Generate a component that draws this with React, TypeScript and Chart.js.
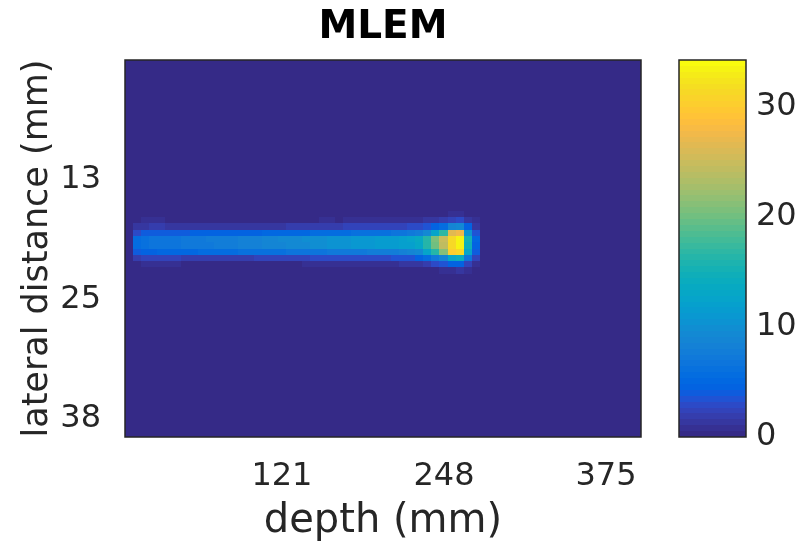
import React, { useEffect, useRef } from "react";
import { Chart, registerables } from "chart.js";

Chart.register(...registerables);

// Axis ranges and tick positions
const DEPTH_RANGE = [-2, 402.4];
const LATERAL_RANGE = [0, 39.7];
const COLOR_RANGE = [0, 34.2];
const DEPTH_TICKS = [121, 248, 375];
const LATERAL_TICKS = [12.6, 25.2, 37.8];
const COLOR_TICKS = [0, 10, 20, 30];

// Reconstruction grid (64 depth bins x 60 lateral bins)
const N_COLS = 64;
const N_ROWS = 60;
const FIRST_BEAM_ROW = 24;

// Reconstructed intensity along depth, one array per lateral bin (bins 24..33)
const row24 = [0, 0, 0, 0, 0, 0, 0, 0, 0, 0, 0, 0, 0, 0, 0, 0, 0, 0, 0, 0, 0, 0, 0, 0, 0, 0, 0, 0, 0, 0, 0, 0, 0, 0, 0, 0, 0, 0, 0, 0.5, 0.9, 1.0, 0.5, 0, 0];
const row25 = [0, 0, 0.6, 0.7, 0.6, 0.5, 0, 0, 0, 0, 0, 0, 0, 0, 0, 0, 0, 0, 0, 0, 0, 0, 0, 0.5, 0.6, 0.6, 0.5, 0.6, 0.7, 0.6, 0.6, 0.7, 0.7, 0.8, 0.8, 0.8, 0.9, 1.2, 1.6, 2.0, 2.6, 2.8, 1.6, 0.6, 0];
const row26 = [0, 1.2, 1.6, 1.8, 1.7, 1.6, 1.5, 1.4, 1.3, 1.2, 1.2, 1.1, 1.1, 1.2, 1.2, 1.3, 1.3, 1.4, 1.5, 1.6, 1.7, 1.8, 1.9, 2.0, 2.0, 2.1, 2.1, 2.2, 2.2, 2.3, 2.3, 2.4, 2.4, 2.5, 2.6, 2.7, 3.0, 3.6, 4.5, 5.5, 9.0, 9.5, 4.5, 1.6, 0];
const row27 = [0, 3.2, 3.8, 4.0, 4.1, 4.1, 4.2, 4.2, 4.3, 4.3, 4.4, 4.4, 4.5, 4.5, 4.6, 4.7, 4.8, 4.9, 5.0, 5.0, 5.1, 5.2, 5.3, 5.4, 5.5, 5.6, 5.7, 5.8, 5.9, 6.0, 6.1, 6.2, 6.4, 6.6, 6.8, 7.0, 7.5, 9.5, 12.5, 17.0, 26.5, 27.5, 10.5, 3.5, 0];
const row28 = [0, 5.8, 6.4, 6.6, 6.7, 6.8, 6.9, 7.0, 7.2, 7.3, 7.5, 7.7, 7.8, 8.0, 8.1, 8.3, 8.5, 8.7, 8.9, 9.1, 9.3, 9.5, 9.7, 9.9, 10.1, 10.3, 10.5, 10.6, 10.8, 11.0, 11.1, 11.3, 11.5, 11.7, 11.9, 12.3, 13.5, 16.5, 20.5, 25.0, 31.5, 33.6, 15.0, 5.0, 0];
const row29 = [0, 5.7, 6.3, 6.5, 6.6, 6.7, 6.8, 7.0, 7.1, 7.3, 7.4, 7.6, 7.8, 7.9, 8.1, 8.3, 8.4, 8.6, 8.8, 9.0, 9.2, 9.4, 9.6, 9.8, 10.0, 10.2, 10.4, 10.6, 10.7, 10.9, 11.1, 11.3, 11.5, 11.6, 11.8, 12.2, 13.3, 16.2, 20.0, 24.5, 31.2, 33.4, 14.5, 4.8, 0];
const row30 = [0, 4.0, 4.6, 4.8, 4.9, 5.0, 5.1, 5.2, 5.3, 5.4, 5.5, 5.6, 5.7, 5.8, 5.9, 6.0, 6.1, 6.2, 6.3, 6.4, 6.5, 6.6, 6.7, 6.8, 6.9, 7.0, 7.1, 7.2, 7.3, 7.4, 7.5, 7.6, 7.8, 8.0, 8.2, 8.6, 9.5, 12.5, 16.5, 21.0, 30.0, 31.5, 12.5, 4.2, 0];
const row31 = [0, 2.0, 2.4, 2.5, 2.4, 2.3, 2.2, 2.1, 2.0, 2.0, 2.0, 1.9, 1.9, 2.0, 2.0, 2.1, 2.2, 2.3, 2.3, 2.4, 2.5, 2.6, 2.6, 2.7, 2.7, 2.8, 2.8, 2.9, 2.9, 3.0, 3.0, 3.1, 3.2, 3.3, 3.4, 3.6, 4.5, 5.5, 7.0, 9.0, 13.0, 14.0, 6.5, 2.2, 0];
const row32 = [0, 0.5, 0.8, 0.9, 0.8, 0.7, 0.6, 0, 0, 0, 0, 0, 0, 0, 0, 0, 0, 0, 0, 0, 0, 0.5, 0.6, 0.7, 0.7, 0.8, 0.7, 0.8, 0.8, 0.8, 0.9, 0.9, 1.0, 1.0, 1.1, 1.2, 1.5, 2.0, 2.8, 3.5, 4.5, 4.8, 2.6, 0.9, 0];
const row33 = [0, 0, 0, 0, 0, 0, 0, 0, 0, 0, 0, 0, 0, 0, 0, 0, 0, 0, 0, 0, 0, 0, 0, 0, 0, 0, 0, 0, 0, 0, 0, 0, 0, 0, 0, 0, 0, 0, 0, 0.6, 1.0, 1.2, 0.6, 0, 0];

const BEAM_ROWS = [row24, row25, row26, row27, row28, row29, row30, row31, row32, row33];

// MATLAB parula colormap, 64 entries
const PARULA: number[][] = [
  [0.2081, 0.1663, 0.5292], [0.2116, 0.1898, 0.5777], [0.2123, 0.2138, 0.627], [0.2081, 0.2386, 0.6771],
  [0.1959, 0.2645, 0.7279], [0.1707, 0.2919, 0.7792], [0.1253, 0.3242, 0.8303], [0.0591, 0.3598, 0.8683],
  [0.0117, 0.3875, 0.882], [0.006, 0.4086, 0.8828], [0.0165, 0.4266, 0.8786], [0.0329, 0.443, 0.872],
  [0.0498, 0.4586, 0.8641], [0.0629, 0.4737, 0.8554], [0.0723, 0.4887, 0.8467], [0.0779, 0.504, 0.8384],
  [0.0793, 0.52, 0.8312], [0.0749, 0.5375, 0.8263], [0.0641, 0.557, 0.824], [0.0488, 0.5772, 0.8228],
  [0.0343, 0.5966, 0.8199], [0.0265, 0.6137, 0.8135], [0.0239, 0.6287, 0.8038], [0.0231, 0.6418, 0.7913],
  [0.0228, 0.6535, 0.7768], [0.0267, 0.6642, 0.7607], [0.0384, 0.6743, 0.7436], [0.059, 0.6838, 0.7254],
  [0.0843, 0.6928, 0.7062], [0.1133, 0.7015, 0.6859], [0.1453, 0.7098, 0.6646], [0.1801, 0.7177, 0.6424],
  [0.2178, 0.725, 0.6193], [0.2586, 0.7317, 0.5954], [0.3022, 0.7376, 0.5712], [0.3482, 0.7424, 0.5473],
  [0.3953, 0.7459, 0.5244], [0.442, 0.7481, 0.5033], [0.4871, 0.7491, 0.484], [0.53, 0.7491, 0.4661],
  [0.5709, 0.7485, 0.4494], [0.6099, 0.7473, 0.4337], [0.6473, 0.7456, 0.4188], [0.6834, 0.7435, 0.4044],
  [0.7184, 0.7411, 0.3905], [0.7525, 0.7384, 0.3768], [0.7858, 0.7356, 0.3633], [0.8185, 0.7327, 0.3498],
  [0.8507, 0.7299, 0.336], [0.8824, 0.7274, 0.3217], [0.9139, 0.7258, 0.3063], [0.945, 0.7261, 0.2886],
  [0.9739, 0.7314, 0.2666], [0.9938, 0.7455, 0.2403], [0.999, 0.7653, 0.2164], [0.9955, 0.7861, 0.1967],
  [0.988, 0.8066, 0.1794], [0.9789, 0.8271, 0.1633], [0.9697, 0.8481, 0.1475], [0.9626, 0.8705, 0.1309],
  [0.9589, 0.8949, 0.1132], [0.9598, 0.9218, 0.0948], [0.9661, 0.9514, 0.0755], [0.9763, 0.9831, 0.0538],
];

const FONT = "'DejaVu Sans', 'Liberation Sans', sans-serif";
const TEXT_COLOR = "#262626";

function parulaColor(v: number): string {
  const t = (v - COLOR_RANGE[0]) / (COLOR_RANGE[1] - COLOR_RANGE[0]);
  const i = Math.max(0, Math.min(PARULA.length - 1, Math.floor(t * PARULA.length)));
  const [r, g, b] = PARULA[i];
  return `rgb(${Math.round(r * 255)},${Math.round(g * 255)},${Math.round(b * 255)})`;
}

function cellValue(row: number, col: number): number {
  const beam = BEAM_ROWS[row - FIRST_BEAM_ROW];
  if (!beam) return 0;
  return beam[col] ?? 0;
}

const depthStep = (DEPTH_RANGE[1] - DEPTH_RANGE[0]) / N_COLS;
const lateralStep = (LATERAL_RANGE[1] - LATERAL_RANGE[0]) / N_ROWS;

// One point per grid cell (centre position + intensity)
const cells: { x: number; y: number; v: number }[] = [];
for (let r = 0; r < N_ROWS; r++) {
  for (let c = 0; c < N_COLS; c++) {
    cells.push({
      x: DEPTH_RANGE[0] + (c + 0.5) * depthStep,
      y: LATERAL_RANGE[0] + (r + 0.5) * lateralStep,
      v: cellValue(r, c),
    });
  }
}

// keep tick-label overhang from pushing the plot area around
const noPadding = (s: any) => {
  s.paddingTop = 0;
  s.paddingBottom = 0;
  s.paddingLeft = 0;
  s.paddingRight = 0;
};

const heatmapPlugin = {
  id: "heatmapCells",
  beforeDatasetsDraw(chart: any) {
    const { ctx, chartArea, scales } = chart;
    const xs = scales.x;
    const ys = scales.y;
    const cs = scales.cbar;
    ctx.save();
    ctx.beginPath();
    ctx.rect(chartArea.left, chartArea.top, chartArea.right - chartArea.left, chartArea.bottom - chartArea.top);
    ctx.clip();
    for (const cell of cells) {
      const x0 = Math.round(xs.getPixelForValue(cell.x - depthStep / 2));
      const x1 = Math.round(xs.getPixelForValue(cell.x + depthStep / 2));
      const y0 = Math.round(ys.getPixelForValue(cell.y - lateralStep / 2));
      const y1 = Math.round(ys.getPixelForValue(cell.y + lateralStep / 2));
      ctx.fillStyle = parulaColor(cell.v);
      ctx.fillRect(Math.min(x0, x1), Math.min(y0, y1), Math.abs(x1 - x0), Math.abs(y1 - y0));
    }
    ctx.restore();

    // axes box
    ctx.save();
    ctx.strokeStyle = TEXT_COLOR;
    ctx.lineWidth = 1.5;
    ctx.strokeRect(chartArea.left, chartArea.top, chartArea.right - chartArea.left, chartArea.bottom - chartArea.top);

    // colour bar, drawn against its own value scale
    const barLeft = chartArea.right + 38;
    const barRight = chartArea.right + 105;
    const n = PARULA.length;
    for (let i = 0; i < n; i++) {
      const v0 = COLOR_RANGE[0] + (i / n) * (COLOR_RANGE[1] - COLOR_RANGE[0]);
      const v1 = COLOR_RANGE[0] + ((i + 1) / n) * (COLOR_RANGE[1] - COLOR_RANGE[0]);
      const p0 = Math.round(cs.getPixelForValue(v0));
      const p1 = Math.round(cs.getPixelForValue(v1));
      ctx.fillStyle = parulaColor((v0 + v1) / 2);
      ctx.fillRect(barLeft, p1, barRight - barLeft, p0 - p1);
    }
    ctx.strokeRect(barLeft, cs.top, barRight - barLeft, cs.bottom - cs.top);

    // title
    ctx.fillStyle = "#000";
    ctx.font = `bold 39px ${FONT}`;
    ctx.textAlign = "center";
    ctx.textBaseline = "middle";
    ctx.fillText("MLEM", (chartArea.left + chartArea.right) / 2, 28);
    ctx.restore();
  },
};

export default function App() {
  const ref = useRef<HTMLCanvasElement>(null);

  useEffect(() => {
    if (!ref.current) return;
    const chart = new Chart(ref.current, {
      type: "scatter",
      data: {
        datasets: [
          {
            data: cells.map((c) => ({ x: c.x, y: c.y })),
            pointRadius: 0,
            pointHoverRadius: 0,
          },
        ],
      },
      options: {
        animation: false,
        responsive: false,
        events: [],
        layout: { padding: { top: 60, left: 0, right: 0, bottom: 0 } },
        plugins: {
          legend: { display: false },
          tooltip: { enabled: false },
          title: { display: false },
        },
        scales: {
          x: {
            type: "linear",
            position: "bottom",
            min: DEPTH_RANGE[0],
            max: DEPTH_RANGE[1],
            grid: { display: false, drawTicks: false },
            border: { display: false },
            afterBuildTicks: (s: any) => {
              s.ticks = DEPTH_TICKS.map((v) => ({ value: v }));
            },
            afterFit: (s: any) => {
              s.height = 110;
              noPadding(s);
            },
            ticks: {
              autoSkip: false,
              maxRotation: 0,
              padding: 20,
              color: TEXT_COLOR,
              font: { family: FONT, size: 32 },
              callback: (v: any) => String(Math.round(v)),
            },
            title: {
              display: true,
              text: "depth (mm)",
              color: TEXT_COLOR,
              font: { family: FONT, size: 40 },
              padding: { top: 0, bottom: 1 },
            },
          },
          y: {
            type: "linear",
            position: "left",
            reverse: true,
            min: LATERAL_RANGE[0],
            max: LATERAL_RANGE[1],
            grid: { display: false, drawTicks: false },
            border: { display: false },
            afterBuildTicks: (s: any) => {
              s.ticks = LATERAL_TICKS.map((v) => ({ value: v }));
            },
            afterFit: (s: any) => {
              s.width = 125;
              noPadding(s);
            },
            ticks: {
              autoSkip: false,
              padding: 24,
              color: TEXT_COLOR,
              font: { family: FONT, size: 32 },
              callback: (v: any) => String(Math.round(v)),
            },
            title: {
              display: true,
              text: "lateral distance (mm)",
              color: TEXT_COLOR,
              font: { family: FONT, size: 35 },
              padding: { top: 17, bottom: 0 },
            },
          },
          cbar: {
            type: "linear",
            position: "right",
            min: COLOR_RANGE[0],
            max: COLOR_RANGE[1],
            grid: { display: false, drawTicks: false },
            border: { display: false },
            afterBuildTicks: (s: any) => {
              s.ticks = COLOR_TICKS.map((v) => ({ value: v }));
            },
            afterFit: (s: any) => {
              s.width = 166;
              noPadding(s);
            },
            ticks: {
              autoSkip: false,
              padding: 115,
              color: TEXT_COLOR,
              font: { family: FONT, size: 32 },
              callback: (v: any) => String(v),
            },
          },
        },
      },
      plugins: [heatmapPlugin],
    } as any);
    return () => chart.destroy();
  }, []);

  return (
    <div style={{ position: "fixed", left: 0, top: 0, width: 807, height: 547, background: "#fff" }}>
      <canvas ref={ref} width={807} height={547} style={{ width: 807, height: 547 }} />
    </div>
  );
}
